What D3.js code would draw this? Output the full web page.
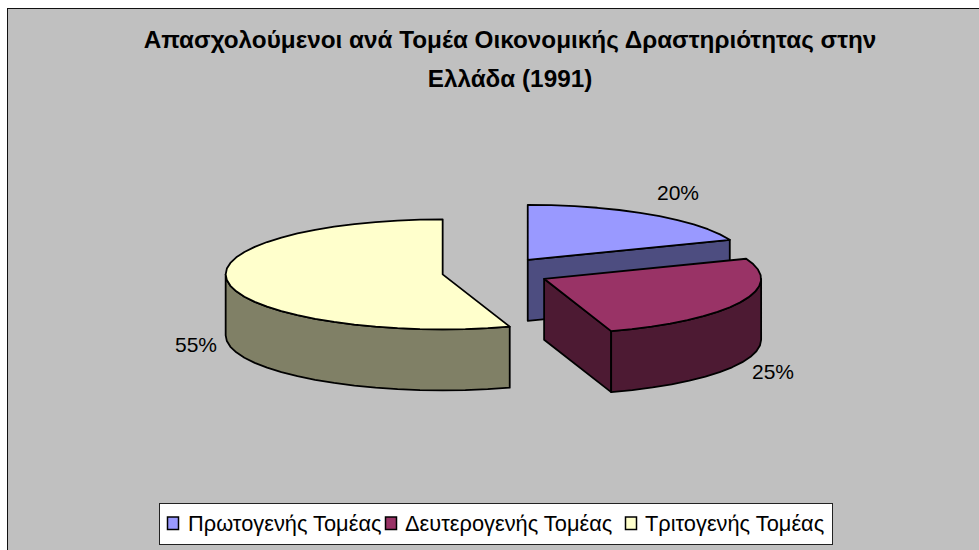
<!DOCTYPE html>
<html lang="el">
<head>
<meta charset="utf-8">
<script src="https://cdn.jsdelivr.net/npm/d3@7"></script>
<style>
html,body{margin:0;padding:0;background:#fff;overflow:hidden}
svg{display:block}
text{font-family:"Liberation Sans",Arial,sans-serif;fill:#000}
</style>
</head>
<body>
<div id="chart"></div>
<script>
const categories = ["Πρωτογενής Τομέας", "Δευτερογενής Τομέας", "Τριτογενής Τομέας"];
const values = [20, 25, 55];
const topColors = ["#9999ff", "#993366", "#ffffcc"];
const wallColors = ["#4d4d80", "#4d1a33", "#808066"];
const titleLines = ["Απασχολούμενοι ανά Τομέα Οικονομικής Δραστηριότητας στην", "Ελλάδα (1991)"];
const labelAnchors = [[678, 193], [773, 372], [196, 345]];
const legendStarts = [[167.5, 188], [385.5, 405], [625.5, 645]];

const W = 979, H = 550;
const cx = 496, cy = 272, rx = 217, ry = 55, depth = 61, explodeX = 54, explodeY = 15;
const TAU = Math.PI * 2, rad = d => d * Math.PI / 180;

// The 3D view of the original shifts the apparent angle of the 20/25 boundary a little.
const warp = d3.scaleLinear().domain([0, 72, 162, 360].map(rad)).range([0, 68.6, 162, 360].map(rad));

const svg = d3.select("#chart").append("svg").attr("width", W).attr("height", H);
svg.append("rect").attr("x", 7.5).attr("y", 8.5).attr("width", W + 20).attr("height", H + 20)
  .attr("fill", "#c0c0c0").attr("stroke", "#111").attr("stroke-width", 1);

const title = svg.append("g").attr("font-weight", "bold").attr("font-size", 24.3).attr("text-anchor", "middle");
titleLines.forEach((t, i) => title.append("text").attr("x", 510).attr("y", 48 + i * 39).text(t));

const arcs = d3.pie().value(d => d).sort(null)(values).map((a, i) => {
  const mid = (a.startAngle + a.endAngle) / 2;
  return {
    i,
    start: warp(a.startAngle),
    end: warp(a.endAngle),
    ax: cx + explodeX * Math.sin(mid),
    ay: cy - explodeY * Math.cos(mid)
  };
});

const line = d3.line().x(d => d[0]).y(d => d[1]);
const sample = (a0, a1) => {
  const n = Math.max(1, Math.round(Math.abs(a1 - a0) / rad(6)));
  return d3.range(n + 1).map(k => a0 + (a1 - a0) * k / n);
};
const rim = (s, t, dy = 0) => [s.ax + rx * Math.sin(t), s.ay - ry * Math.cos(t) + dy];

const pie = svg.append("g").attr("stroke", "#000").attr("stroke-width", 1.8).attr("stroke-linejoin", "round");

arcs.forEach(s => {
  const g = pie.append("g");
  const wall = wallColors[s.i];
  // radial face closing the slice, when it turns towards the viewer
  const radial = t => {
    const e = rim(s, t);
    g.append("path").attr("fill", wall).attr("d", line([[s.ax, s.ay], e, [e[0], e[1] + depth], [s.ax, s.ay + depth]]) + "Z");
  };
  if (s.end > 0 && s.end < Math.PI) radial(s.end);
  if (s.start > Math.PI && s.start < TAU) radial(s.start);
  // outer curved wall, front half only
  const w0 = Math.max(s.start, Math.PI / 2), w1 = Math.min(s.end, Math.PI * 1.5);
  if (w1 > w0) {
    const ts = sample(w0, w1);
    const pts = ts.map(t => rim(s, t)).concat(ts.slice().reverse().map(t => rim(s, t, depth)));
    g.append("path").attr("fill", wall).attr("d", line(pts) + "Z");
  }
  // top face
  const top = [[s.ax, s.ay]].concat(sample(s.start, s.end).map(t => rim(s, t)));
  g.append("path").attr("fill", topColors[s.i]).attr("d", line(top) + "Z");
});

svg.append("g").selectAll("text").data(values).join("text")
  .attr("x", (d, i) => labelAnchors[i][0])
  .attr("y", (d, i) => labelAnchors[i][1] + 7)
  .attr("text-anchor", "middle").attr("font-size", 21)
  .text(d => d + "%");

svg.append("rect").attr("x", 159.5).attr("y", 503.5).attr("width", 673).attr("height", 41)
  .attr("fill", "#fff").attr("stroke", "#222").attr("stroke-width", 1);
const leg = svg.append("g").selectAll("g").data(categories).join("g");
leg.append("rect").attr("x", (d, i) => legendStarts[i][0]).attr("y", 517).attr("width", 11).attr("height", 12.5)
  .attr("fill", (d, i) => topColors[i]).attr("stroke", "#000").attr("stroke-width", 1.5);
leg.append("text").attr("x", (d, i) => legendStarts[i][1]).attr("y", 531).attr("font-size", 21.8).text(d => d);
</script>
</body>
</html>
